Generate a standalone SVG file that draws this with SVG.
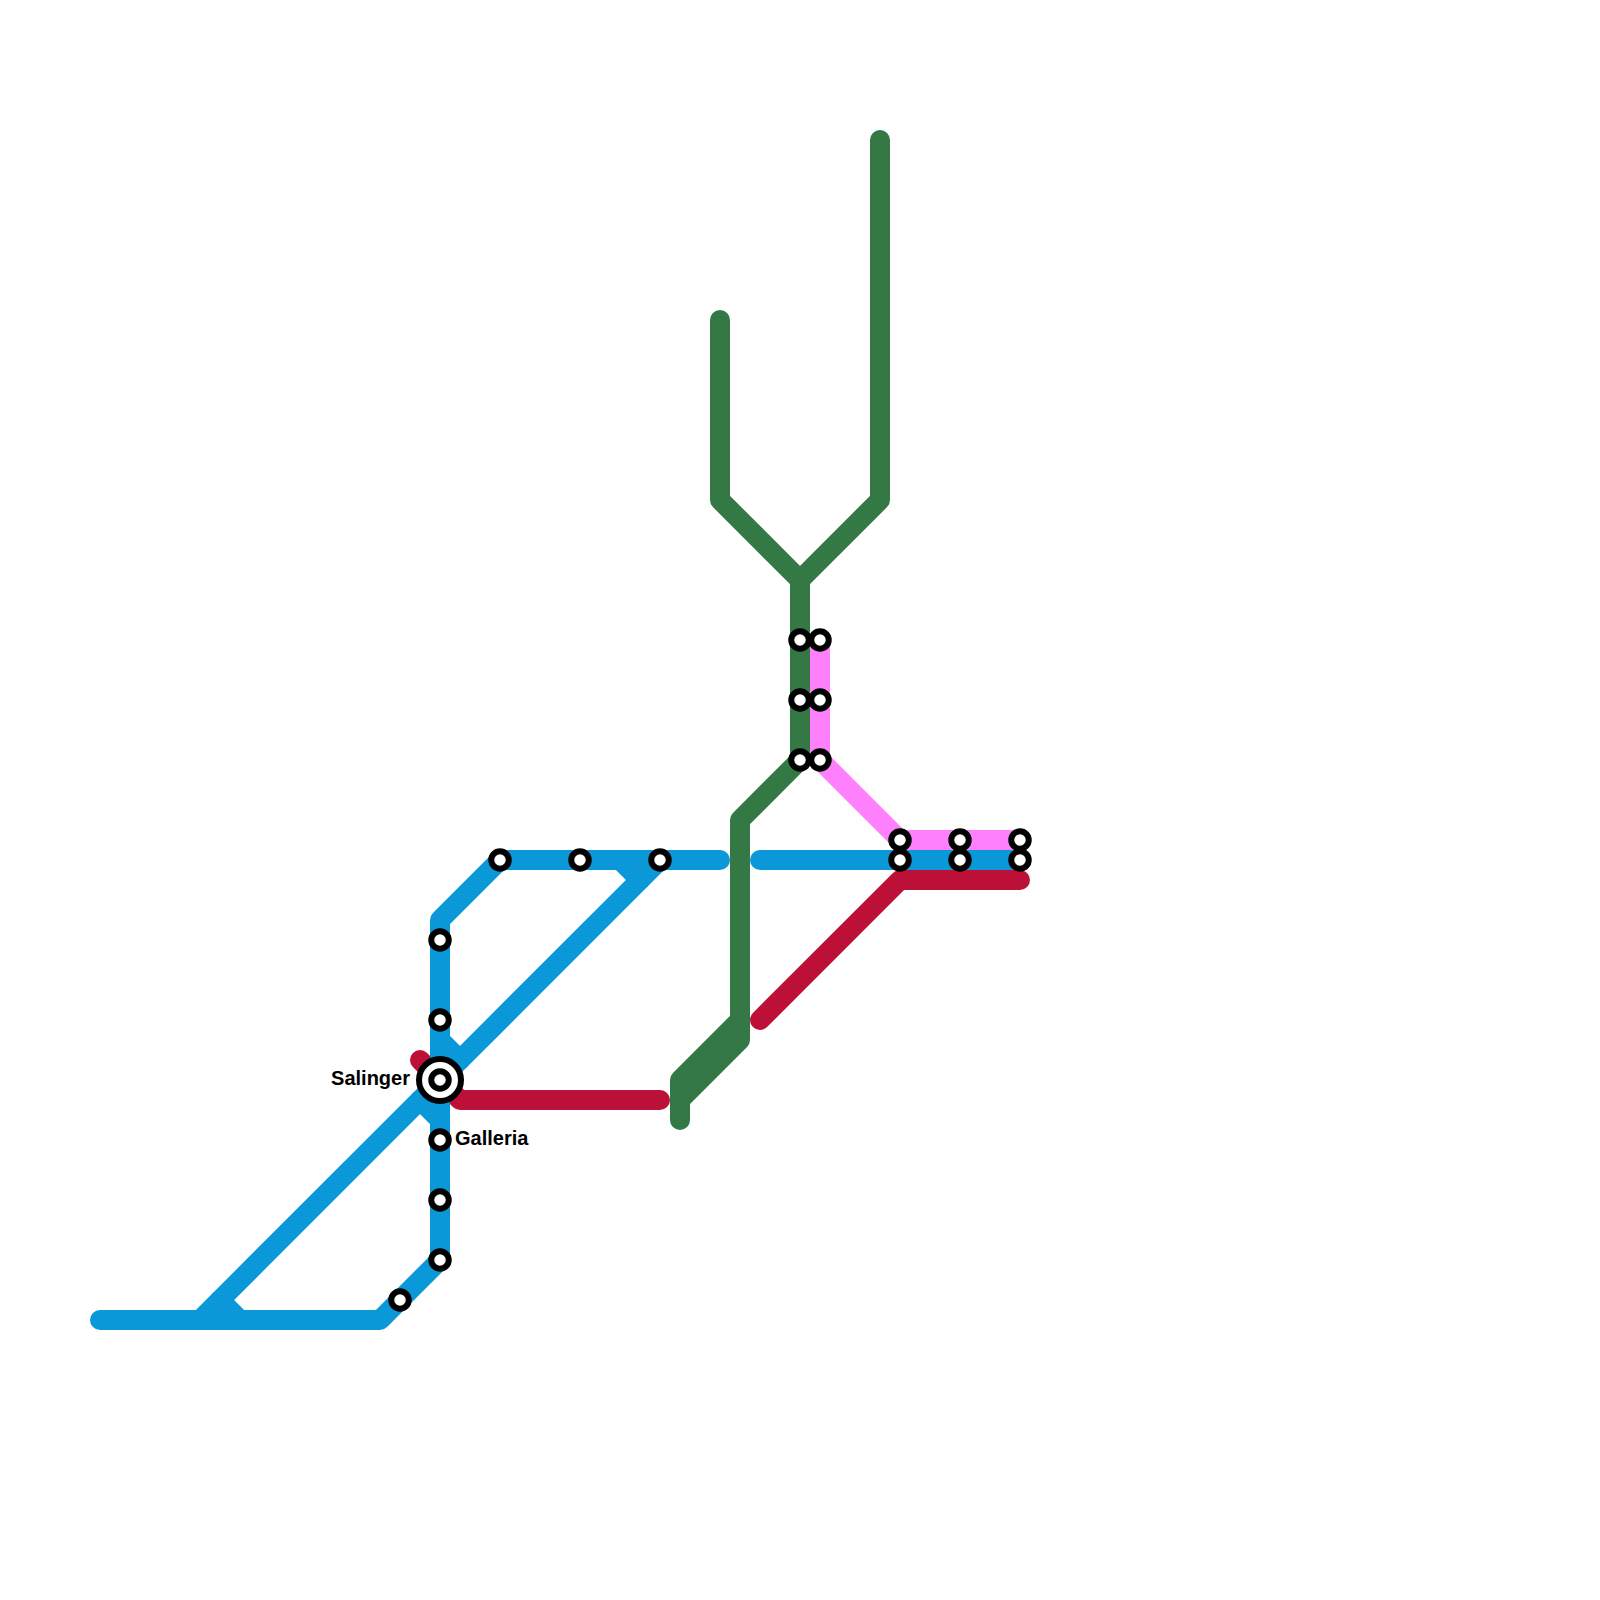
<svg xmlns="http://www.w3.org/2000/svg" width="1600" height="1600" viewBox="0 0 1600 1600">
<style>
.l{fill:none;stroke-width:20;stroke-linecap:round;stroke-linejoin:round}
.b{stroke:#0a98d9}.r{stroke:#bd1038}.g{stroke:#337845}.p{stroke:#ff80fd}
.s{fill:#fff;stroke:#000;stroke-width:6}
.x{fill:#fff;stroke:#000;stroke-width:6}
text{font-family:"Liberation Sans",Arial,sans-serif;font-weight:bold;font-size:20px;fill:#000}
</style>
<rect width="1600" height="1600" fill="#fff"/>
<g id="connectors">
<path class="l r" d="M420 1060L460 1100H660"/>
<path class="l r" d="M760 1020L900 880H1020"/>
<path class="l b" d="M100 1320H380L440 1260V920L500 860H720"/>
<path class="l b" d="M440 1040L460 1060L660 860"/>
<path class="l b" d="M620 860L640 880"/>
<path class="l b" d="M240 1320L220 1300"/>
<path class="l b" d="M200 1320L420 1100L440 1120"/>
<path class="l b" d="M460 1060L420 1100"/>
<path class="l b" d="M760 860H1020"/>
<path class="l p" d="M820 640V760L900 840H1020"/>
<path class="l g" d="M720 320V500L800 580L880 500V140"/>
<path class="l g" d="M800 580V760L740 820V1040L680 1100"/>
<path class="l g" d="M740 1020L680 1080V1120"/>
<path class="l g" d="M740 1030L680 1090"/>
</g>
<g id="st-1"><circle class="s" cx="440" cy="940" r="8.75"/></g>
<g id="st-2"><circle class="s" cx="440" cy="1020" r="8.75"/></g>
<g id="st-salinger"><circle class="x" cx="440" cy="1080" r="21"/><circle class="s" cx="440" cy="1080" r="8.75"/><text x="410" y="1085" text-anchor="end">Salinger</text></g>
<g id="st-galleria"><circle class="s" cx="440" cy="1140" r="8.75"/><text x="455" y="1145">Galleria</text></g>
<g id="st-5"><circle class="s" cx="440" cy="1200" r="8.75"/></g>
<g id="st-6"><circle class="s" cx="440" cy="1260" r="8.75"/></g>
<g id="st-7"><circle class="s" cx="400" cy="1300" r="8.75"/></g>
<g id="st-8"><circle class="s" cx="500" cy="860" r="8.75"/></g>
<g id="st-9"><circle class="s" cx="580" cy="860" r="8.75"/></g>
<g id="st-10"><circle class="s" cx="660" cy="860" r="8.75"/></g>
<g id="st-11"><circle class="s" cx="800" cy="640" r="8.75"/></g>
<g id="st-12"><circle class="s" cx="800" cy="700" r="8.75"/></g>
<g id="st-13"><circle class="s" cx="800" cy="760" r="8.75"/></g>
<g id="st-14"><circle class="s" cx="820" cy="640" r="8.75"/></g>
<g id="st-15"><circle class="s" cx="820" cy="700" r="8.75"/></g>
<g id="st-16"><circle class="s" cx="820" cy="760" r="8.75"/></g>
<g id="st-17"><circle class="s" cx="900" cy="840" r="8.75"/></g>
<g id="st-18"><circle class="s" cx="900" cy="860" r="8.75"/></g>
<g id="st-19"><circle class="s" cx="960" cy="840" r="8.75"/></g>
<g id="st-20"><circle class="s" cx="960" cy="860" r="8.75"/></g>
<g id="st-21"><circle class="s" cx="1020" cy="840" r="8.75"/></g>
<g id="st-22"><circle class="s" cx="1020" cy="860" r="8.75"/></g>
</svg>
